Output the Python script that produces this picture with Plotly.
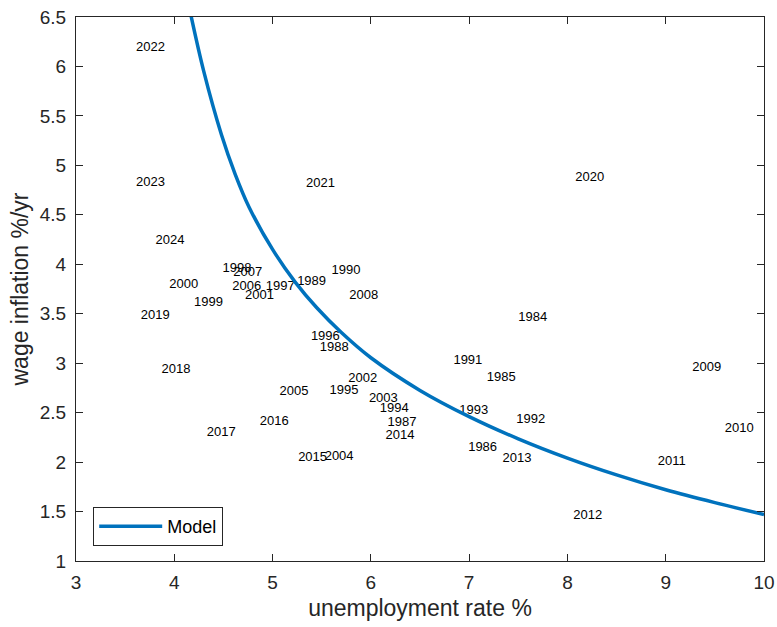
import plotly.graph_objects as go

# Year labels placed at (unemployment %, wage inflation %/yr)
years = ["1984","1985","1986","1987","1988","1989","1990","1991","1992","1993",
         "1994","1995","1996","1997","1998","1999","2000","2001","2002","2003",
         "2004","2005","2006","2007","2008","2009","2010","2011","2012","2013",
         "2014","2015","2016","2017","2018","2019","2020","2021","2022","2023","2024"]
unemp = [7.50, 7.18, 6.99, 6.17, 5.48, 5.25, 5.60, 6.84, 7.48, 6.90,
         6.09, 5.58, 5.39, 4.93, 4.49, 4.20, 3.95, 4.72, 5.77, 5.98,
         5.53, 5.07, 4.59, 4.60, 5.78, 9.27, 9.60, 8.92, 8.06, 7.34,
         6.15, 5.26, 4.87, 4.33, 3.87, 3.66, 8.08, 5.34, 3.61, 3.61, 3.81]
wage = [3.455, 2.852, 2.144, 2.397, 3.155, 3.821, 3.932, 3.023, 2.431, 2.518,
        2.535, 2.720, 3.266, 3.771, 3.957, 3.609, 3.791, 3.684, 2.841, 2.636,
        2.058, 2.707, 3.771, 3.912, 3.677, 2.953, 2.336, 2.003, 1.458, 2.033,
        2.266, 2.043, 2.407, 2.293, 2.929, 3.475, 4.872, 4.818, 6.185, 4.828, 4.235]

# Model curve, values
model_u = [4.10, 4.16, 4.30, 4.48, 4.62, 4.76, 5.00, 5.23, 5.45, 5.70, 6.00,
           6.50, 7.00, 7.50, 8.00, 8.50, 9.00, 9.50, 10.00]
model_w = [6.85, 6.56, 5.95, 5.31, 4.91, 4.58, 4.15, 3.82, 3.56, 3.31, 3.055,
           2.725, 2.46, 2.235, 2.04, 1.87, 1.72, 1.59, 1.47]

x_ticks = [3, 4, 5, 6, 7, 8, 9, 10]
y_ticks = [1, 1.5, 2, 2.5, 3, 3.5, 4, 4.5, 5, 5.5, 6, 6.5]

FONT = "Liberation Sans, Arial, Helvetica, sans-serif"
AX = "#262626"

fig = go.Figure()
fig.add_trace(go.Scatter(
    x=unemp, y=wage, text=years, mode="text",
    textposition="middle right",
    textfont=dict(family=FONT, size=13, color="black"),
    showlegend=False, hoverinfo="skip", cliponaxis=False,
))
fig.add_trace(go.Scatter(
    x=model_u, y=model_w, mode="lines", name="Model",
    line=dict(color="#0072BD", width=3.5, shape="spline", smoothing=1.0),
))

axis_common = dict(
    showline=True, linecolor=AX, linewidth=1, mirror="ticks",
    ticks="inside", ticklen=7, tickcolor=AX, tickwidth=1,
    showgrid=False, zeroline=False, ticklabeloverflow="allow",
    tickfont=dict(family=FONT, size=19, color=AX),
)
fig.update_xaxes(range=[3, 10], tickvals=x_ticks, ticklabelstandoff=4,
                 title=dict(text="unemployment rate %", font=dict(family=FONT, size=23, color=AX), standoff=8),
                 **axis_common)
fig.update_yaxes(range=[1, 6.5], tickvals=y_ticks, ticklabelstandoff=5,
                 title=dict(text="wage inflation %/yr", font=dict(family=FONT, size=23, color=AX), standoff=4),
                 **axis_common)

fig.update_layout(
    width=777, height=627,
    margin=dict(l=76, r=12.5, t=16.5, b=66, autoexpand=False),
    plot_bgcolor="white", paper_bgcolor="white",
    font=dict(family=FONT, color=AX),
    hovermode=False,
    legend=dict(x=0.025, y=0.0275, xanchor="left", yanchor="bottom",
                bgcolor="white", bordercolor=AX, borderwidth=1,
                font=dict(family=FONT, size=18, color="black"),
                itemwidth=63),
)
# remove the page's default 8px body margin so the figure fills the window
fig.write_html("out.html", config={"displayModeBar": False},
               post_script="document.body.style.margin='0px';")
